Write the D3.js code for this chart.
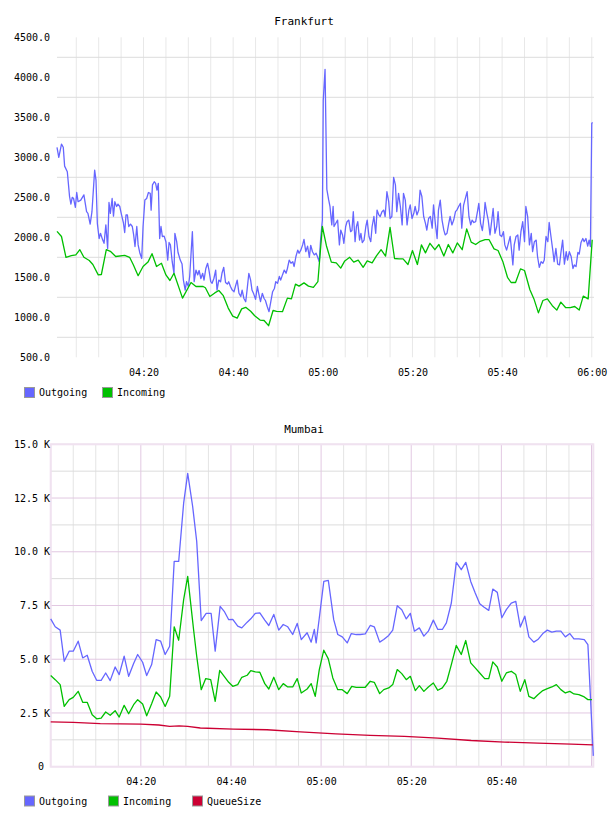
<!DOCTYPE html>
<html>
<head>
<meta charset="utf-8">
<script src="https://cdn.jsdelivr.net/npm/d3@7"></script>
<style>
  body { margin: 0; background: #fff; }
  svg text { font-family: "DejaVu Sans Mono", monospace; fill: #000; }
</style>
</head>
<body>
<div id="charts"></div>
<script>
/* two traffic charts, times are minutes after 04:00 */

const frOutgoing = [[0.7,3125],[1.1,3000],[1.7,3165],[2.1,3125],[2.4,2890],[3.0,2820],[3.5,2510],[3.8,2415],[4.1,2500],[4.4,2485],[4.8,2375],[5.1,2560],[5.4,2445],[6.0,2465],[6.7,2530],[7.3,2320],[7.6,2300],[8.1,2165],[8.5,2320],[9.1,2840],[9.4,2715],[9.7,2175],[10.1,1985],[10.4,2050],[10.9,1965],[11.2,1925],[11.6,2155],[12.0,1860],[12.3,2435],[12.6,2300],[13.0,2485],[13.3,2265],[13.6,2445],[14.0,2385],[14.3,2415],[14.7,2385],[15.1,2280],[15.5,2185],[15.8,2060],[16.1,2280],[16.4,2280],[16.7,2135],[17.1,2165],[17.5,2135],[17.8,2030],[18.1,1885],[18.5,2135],[18.8,1905],[19.2,1800],[19.6,1735],[19.9,2135],[20.3,2465],[20.7,2485],[21.1,2560],[21.5,2550],[21.7,2340],[22.0,2655],[22.4,2695],[22.7,2675],[23.0,2590],[23.3,2675],[23.6,1985],[23.9,2135],[24.2,2010],[24.6,2015],[25.0,1945],[25.4,1715],[25.7,1935],[26.0,1905],[26.4,1695],[26.8,1550],[27.0,2050],[27.4,1945],[27.7,1810],[28.2,1715],[28.6,1665],[28.9,1465],[29.3,1340],[29.6,1445],[30.0,1385],[30.3,1510],[30.9,2070],[31.3,1445],[31.7,1590],[32.1,1530],[32.4,1585],[32.8,1485],[33.2,1550],[33.5,1465],[33.9,1610],[34.3,1675],[34.6,1590],[35.0,1445],[35.3,1425],[35.7,1485],[36.1,1590],[36.4,1340],[36.8,1465],[37.2,1445],[37.5,1550],[37.9,1625],[38.3,1435],[38.7,1415],[39.0,1445],[39.4,1385],[39.8,1340],[40.2,1320],[40.5,1385],[40.9,1465],[41.3,1300],[41.7,1260],[42.0,1340],[42.4,1235],[42.8,1195],[43.1,1340],[43.5,1550],[43.9,1465],[44.2,1340],[44.6,1290],[45.0,1225],[45.4,1385],[45.7,1300],[46.1,1195],[46.5,1300],[46.9,1235],[47.2,1210],[47.6,1135],[48.0,1070],[48.4,1195],[48.8,1320],[49.2,1360],[49.5,1445],[49.9,1425],[50.3,1510],[50.6,1465],[51.0,1530],[51.4,1590],[51.8,1550],[52.1,1610],[52.5,1715],[52.9,1675],[53.3,1695],[53.6,1635],[54.0,1760],[54.4,1840],[54.7,1800],[55.1,1840],[55.5,1905],[55.8,1975],[56.2,1820],[56.6,1890],[57.0,1750],[57.3,1900],[57.7,1820],[58.1,1780],[58.5,1800],[58.8,1760],[59.2,1695],[59.5,1965],[59.9,2215],[60.1,3715],[60.5,4100],[60.9,2600],[61.3,2470],[61.6,2385],[62.0,2155],[62.3,2385],[62.5,2135],[62.9,2175],[63.3,2215],[63.7,1905],[64.0,2090],[64.4,2030],[64.7,1925],[65.1,2135],[65.4,2195],[65.8,2215],[66.2,2070],[66.5,2085],[66.8,2320],[67.2,1945],[67.5,2135],[67.8,2195],[68.2,1965],[68.5,2050],[68.8,1935],[69.2,1965],[69.6,2135],[69.9,2215],[70.3,2010],[70.7,1945],[71.0,2135],[71.4,2260],[71.8,2050],[72.1,2340],[72.5,2280],[72.8,2260],[73.2,2320],[73.6,2340],[73.9,2260],[74.3,2570],[74.7,2445],[75.0,2235],[75.4,2260],[75.8,2750],[76.2,2655],[76.5,2320],[76.9,2550],[77.3,2385],[77.7,2155],[78.0,2550],[78.4,2465],[78.8,2155],[79.2,2340],[79.5,2405],[79.9,2235],[80.3,2300],[80.6,2385],[81.0,2280],[81.4,2340],[81.7,2590],[82.1,2510],[82.5,2260],[82.9,2175],[83.2,2090],[83.6,2235],[84.0,2260],[84.4,2115],[84.7,2405],[85.1,2175],[85.5,1985],[85.8,2340],[86.2,2465],[86.6,2215],[87.0,2090],[87.3,2030],[87.7,2050],[88.1,2175],[88.4,2260],[88.8,2155],[89.2,2215],[89.6,2320],[89.9,2340],[90.3,2385],[90.7,2425],[91.0,2115],[91.4,2400],[91.7,2465],[92.2,2570],[92.6,2260],[93.0,2155],[93.3,2215],[93.7,2185],[94.1,2195],[94.5,2320],[94.8,2425],[95.2,2175],[95.6,2085],[96.0,2280],[96.2,2435],[96.6,2300],[96.9,2215],[97.3,2030],[97.7,2215],[98.0,2360],[98.4,2050],[98.8,2135],[99.1,2320],[99.5,2030],[99.9,2010],[100.3,2070],[100.6,1905],[101.0,1840],[101.4,1925],[101.8,2010],[102.1,1840],[102.4,1655],[102.7,1905],[103.1,2010],[103.5,2030],[103.8,1840],[104.2,2070],[104.6,2195],[105.0,1945],[105.3,2385],[105.7,2260],[106.1,1905],[106.5,2050],[106.8,1820],[107.2,1945],[107.6,1965],[107.9,1760],[108.3,1625],[108.7,1695],[109.1,1675],[109.4,1715],[109.8,2010],[110.2,1945],[110.5,2185],[110.9,2010],[111.3,1840],[111.6,1695],[112.0,1860],[112.4,1665],[112.8,1655],[113.1,1800],[113.5,1965],[113.9,1665],[114.3,1820],[114.6,1715],[115.0,1820],[115.4,1760],[115.8,1610],[116.1,1655],[116.5,1635],[116.9,1810],[117.2,1790],[117.6,1935],[118.0,1985],[118.3,1945],[118.7,1985],[119.1,1890],[119.4,1965],[119.7,1885],[120.0,3425],[120.2,3435]];

const frIncoming = [[0.7,2075],[1.7,2010],[2.7,1750],[3.9,1770],[4.9,1780],[5.8,1845],[6.7,1750],[7.9,1710],[8.7,1660],[9.9,1530],[10.6,1535],[11.7,1845],[12.6,1825],[13.8,1760],[15.8,1775],[16.9,1750],[17.7,1660],[18.8,1520],[19.9,1635],[21.0,1690],[21.9,1795],[22.9,1635],[24.0,1675],[25.0,1530],[25.9,1460],[26.8,1550],[28.7,1240],[30.6,1435],[31.7,1385],[33.3,1385],[33.8,1370],[34.8,1260],[35.9,1305],[36.8,1335],[37.8,1270],[38.9,1115],[39.9,1015],[40.9,990],[41.9,1105],[42.8,1125],[43.9,1075],[44.8,1020],[46.0,965],[46.9,960],[47.9,895],[48.9,1085],[49.7,1075],[51.0,1070],[52.1,1240],[53.0,1230],[53.9,1415],[54.7,1390],[55.8,1430],[56.8,1390],[57.9,1375],[58.9,1445],[59.9,2135],[60.8,1895],[61.9,1690],[63.0,1680],[64.0,1615],[64.9,1705],[66.0,1750],[66.9,1690],[67.9,1715],[69.0,1625],[69.9,1705],[71.0,1680],[72.0,1770],[73.0,1845],[74.0,1765],[75.0,2125],[76.0,1735],[77.0,1730],[77.9,1730],[79.0,1660],[80.0,1835],[81.1,1660],[82.0,1905],[82.9,1805],[83.9,1925],[85.0,1845],[85.9,1910],[87.0,1765],[88.0,1910],[89.0,1805],[90.0,1930],[91.1,1845],[92.1,2105],[93.1,1940],[94.1,1910],[95.1,1950],[96.2,1970],[97.1,1970],[98.2,1855],[99.1,1835],[100.2,1690],[101.2,1500],[102.0,1435],[103.0,1435],[104.1,1605],[105.0,1585],[106.2,1345],[107.1,1230],[108.1,1055],[109.1,1210],[110.1,1230],[111.2,1145],[112.2,1090],[113.1,1190],[114.2,1120],[115.2,1120],[116.2,1135],[117.2,1090],[118.1,1265],[119.2,1230],[120.1,1970]];

const muOutgoing = [[0,6880],[1.0,6510],[2.1,6355],[3.0,4905],[4.1,5375],[5.0,5375],[6.1,5840],[7.1,5060],[8.1,5185],[9.2,4440],[10.2,4020],[11.2,4020],[12.2,4360],[13.2,4005],[14.3,4640],[15.2,4285],[16.3,5140],[17.3,4205],[18.4,4800],[19.3,5220],[20.4,4860],[21.3,4240],[22.4,4750],[23.4,5915],[24.4,5840],[25.4,5220],[26.4,5605],[27.4,9550],[28.4,9550],[29.5,12260],[30.4,13650],[31.5,12105],[32.4,10480],[33.4,6800],[34.5,7130],[35.6,7130],[36.5,5375],[37.6,7460],[38.5,7230],[39.5,6840],[40.4,6850],[41.5,6540],[42.4,6460],[43.6,6725],[44.4,6880],[45.4,7130],[46.4,7160],[47.5,6820],[48.4,6570],[49.5,7085],[50.6,6355],[51.6,6615],[52.6,6510],[53.7,6150],[54.7,6665],[55.6,5915],[56.9,6230],[57.8,5795],[58.5,6385],[58.9,5760],[59.6,6920],[60.6,8620],[61.6,8670],[62.8,6840],[63.7,6150],[64.7,6040],[65.8,5760],[66.7,6195],[67.8,6150],[68.7,6150],[69.8,6180],[70.9,6570],[71.8,6510],[73.0,5795],[73.9,5915],[75.0,6105],[75.9,6355],[76.9,7490],[77.9,7305],[78.9,6875],[79.8,7135],[80.7,6305],[81.8,6460],[82.8,6075],[83.8,6305],[84.9,6820],[85.9,6385],[86.9,6385],[87.8,6695],[88.9,7615],[90.0,9505],[91.1,9165],[92.1,9505],[93.2,8620],[94.2,8080],[95.2,7585],[96.1,7430],[97.2,7275],[98.1,8265],[99.1,8110],[100.1,6930],[101.1,7305],[102.2,7615],[103.2,7695],[104.2,6500],[105.2,7005],[106.1,6040],[107.2,5795],[108.1,5915],[109.2,6195],[110.2,6355],[111.2,6260],[112.2,6305],[113.2,6305],[114.2,6040],[115.2,6195],[116.1,5950],[117.2,5950],[118.4,5915],[119.2,5685],[120.4,505]];

const muIncoming = [[0,4240],[1.0,4050],[2.1,3820],[3.0,2805],[4.1,3120],[5.0,3225],[6.1,3505],[7.1,2995],[8.1,2995],[9.2,2420],[10.2,2230],[11.2,2265],[12.2,2545],[13.2,2390],[14.3,2605],[15.2,2310],[16.3,2855],[17.3,2465],[18.4,2885],[19.3,3120],[20.4,2915],[21.3,2370],[22.4,2930],[23.4,3475],[24.4,3245],[25.4,2805],[26.4,3275],[27.4,6510],[28.4,5885],[29.5,7770],[30.4,8855],[31.7,6385],[32.4,5140],[33.4,3585],[34.4,4100],[35.5,4050],[36.5,3040],[37.5,4485],[38.5,4205],[39.5,3925],[40.4,3740],[41.5,3820],[42.4,4160],[43.6,4255],[44.4,4470],[45.4,4410],[46.4,4395],[47.5,3865],[48.4,3615],[49.5,4160],[50.6,3585],[51.6,3865],[52.6,3710],[53.7,3710],[54.7,4100],[55.6,3430],[56.9,3615],[57.8,3865],[58.7,3275],[59.6,4520],[60.6,5420],[61.6,5015],[62.6,4130],[63.7,3585],[64.7,3585],[65.8,3400],[66.8,3740],[67.8,3695],[68.7,3695],[69.8,3695],[70.9,3975],[71.8,3925],[73.0,3400],[73.9,3585],[75.0,3665],[75.9,3820],[76.9,4520],[77.9,4330],[78.9,4050],[79.8,4205],[80.9,3540],[81.8,3770],[82.8,3505],[83.8,3710],[84.9,3895],[85.9,3555],[86.9,3665],[87.9,3975],[88.9,4750],[90.0,5640],[91.1,5220],[92.1,5870],[93.2,4830],[94.2,4595],[95.2,4360],[96.3,4100],[97.2,4100],[98.1,4875],[99.1,4640],[100.1,3975],[101.1,4360],[102.2,4440],[103.2,4285],[104.2,3505],[105.2,4050],[106.1,3275],[107.2,3165],[108.1,3350],[109.2,3540],[110.2,3630],[111.2,3710],[112.2,3820],[113.2,3585],[114.2,3430],[115.2,3505],[116.1,3385],[117.2,3350],[118.4,3245],[119.2,3120],[120.1,3120]];

const muQueue = [[0,2090],[5,2060],[11,2000],[20,1985],[24,1940],[26.4,1880],[28.5,1900],[30.4,1875],[33.2,1800],[40.5,1750],[48,1720],[55.4,1620],[63.3,1530],[70.9,1455],[78.5,1410],[85.9,1330],[93.3,1220],[100.7,1145],[108.1,1095],[115.5,1050],[120.3,1020]];

const frYTicks = [500, 1000, 1500, 2000, 2500, 3000, 3500, 4000, 4500];
const frYGrid = [750, 1250, 1750, 2250, 2750, 3250, 3750, 4250];
const frXLabels = ["04:20", "04:40", "05:00", "05:20", "05:40", "06:00"];
const muYTicks = [0, 2500, 5000, 7500, 10000, 12500, 15000];
const muYMinor = [1250, 3750, 6250, 8750, 11250, 13750];
const muXLabels = ["04:20", "04:40", "05:00", "05:20", "05:40"];

const colors = { Outgoing: "#6666ff", Incoming: "#00c000", QueueSize: "#cc0033" };

const width = 608, height = 816;
const svg = d3.select("#charts").append("svg")
  .attr("width", width)
  .attr("height", height);

const base = new Date(2020, 0, 1, 4, 0, 0);
const toTime = m => new Date(base.getTime() + m * 60000);
const hm = s => { const p = s.split(":"); return toTime(+p[0] * 60 + +p[1] - 240); };

function drawChart(c) {
  const g = svg.append("g");

  let x = d3.scaleTime()
    .domain(c.xDomain.map(toTime))
    .range([c.left, c.right]);

  let y = d3.scaleLinear()
    .domain(c.yDomain)
    .range([c.bottom, c.top]);

  const fiveMin = d3.timeMinute.every(5).range(toTime(c.xDomain[0]), toTime(c.xDomain[1] + 0.01));
  const major = t => c.pink && t.getMinutes() % 20 === 0;

  // vertical grid
  g.append("g").selectAll("line")
    .data(fiveMin.filter(t => !major(t)))
    .join("line")
    .attr("x1", d => x(d)).attr("x2", d => x(d))
    .attr("y1", c.top).attr("y2", c.bottom)
    .attr("stroke", c.vGrid).attr("stroke-width", 1);

  // horizontal grid
  g.append("g").selectAll("line")
    .data(c.hGrid)
    .join("line")
    .attr("x1", c.left).attr("x2", c.right)
    .attr("y1", d => y(d)).attr("y2", d => y(d))
    .attr("stroke", c.hGridColor).attr("stroke-width", 1);

  if (c.pink) {
    g.append("g").selectAll("line")
      .data(fiveMin.filter(major))
      .join("line")
      .attr("x1", d => x(d)).attr("x2", d => x(d))
      .attr("y1", c.top).attr("y2", c.bottom)
      .attr("stroke", c.pink).attr("stroke-width", 1);
    g.append("g").selectAll("line")
      .data(c.yTicks)
      .join("line")
      .attr("x1", c.left).attr("x2", c.right)
      .attr("y1", d => y(d)).attr("y2", d => y(d))
      .attr("stroke", c.pink).attr("stroke-width", 1);
    g.append("rect")
      .attr("x", c.left).attr("y", c.top)
      .attr("width", c.right - c.left).attr("height", c.bottom - c.top)
      .attr("fill", "none")
      .attr("stroke", c.border).attr("stroke-width", 2);
  }

  // y labels
  const ya = g.append("g")
    .attr("transform", `translate(${c.left},0)`)
    .call(d3.axisLeft(y)
      .tickValues(c.yTicks)
      .tickFormat(c.yFormat)
      .tickSize(0)
      .tickPadding(c.left - 50));
  ya.select(".domain").remove();

  // x labels
  const xa = g.append("g")
    .attr("transform", `translate(0,${c.bottom})`)
    .call(d3.axisBottom(x)
      .tickValues(c.xLabels.map(hm))
      .tickFormat(d3.timeFormat("%H:%M"))
      .tickSize(0)
      .tickPadding(c.xPad));
  xa.select(".domain").remove();

  svg.selectAll(".tick text")
    .attr("font-family", "DejaVu Sans Mono, monospace")
    .attr("font-size", 10)
    .attr("fill", "#000");

  // lines
  const line = d3.line()
    .x(d => x(toTime(d[0])))
    .y(d => y(d[1]));

  for (const s of c.series) {
    g.append("path")
      .datum(s.data)
      .attr("d", line)
      .attr("fill", "none")
      .attr("stroke", colors[s.name])
      .attr("stroke-width", 1.3)
      .attr("stroke-linejoin", "round");
  }

  // title
  g.append("text")
    .attr("x", 304)
    .attr("y", c.titleY)
    .attr("text-anchor", "middle")
    .attr("font-size", 11)
    .text(c.title);

  // legend
  c.series.forEach((s, i) => {
    const lx = c.legendX[i];
    g.append("rect")
      .attr("x", lx + 0.5).attr("y", c.legendY + 0.5)
      .attr("width", 10).attr("height", 10)
      .attr("fill", colors[s.name])
      .attr("stroke", "#999");
    g.append("text")
      .attr("x", lx + 15)
      .attr("y", c.legendY + 9)
      .attr("font-size", 10)
      .text(s.name);
  });
}

drawChart({
  title: "Frankfurt", titleY: 25,
  left: 57, right: 594, top: 37.3, bottom: 357.3,
  xDomain: [0.7, 120.5], yDomain: [500, 4500],
  yTicks: frYTicks, hGrid: frYGrid,
  yFormat: d3.format(".1f"),
  xLabels: frXLabels, xPad: 12,
  vGrid: "#e8e8e8", hGridColor: "#dcdcdc",
  series: [{ name: "Outgoing", data: frOutgoing }, { name: "Incoming", data: frIncoming }],
  legendX: [24, 102], legendY: 387
});

drawChart({
  title: "Mumbai", titleY: 433,
  left: 50.7, right: 593.3, top: 444.3, bottom: 766.7,
  xDomain: [0, 120.4], yDomain: [0, 15000],
  yTicks: muYTicks, hGrid: muYMinor,
  yFormat: d => d === 0 ? "0\u00a0" : d3.format(".1f")(d / 1000) + " K",
  xLabels: muXLabels, xPad: 11,
  vGrid: "#e4e4e4", hGridColor: "#dcdcdc",
  pink: "#e2c8e2", border: "#f0e2f0",
  series: [{ name: "Outgoing", data: muOutgoing }, { name: "Incoming", data: muIncoming }, { name: "QueueSize", data: muQueue }],
  legendX: [24, 108, 192], legendY: 795.5
});
</script>
</body>
</html>
